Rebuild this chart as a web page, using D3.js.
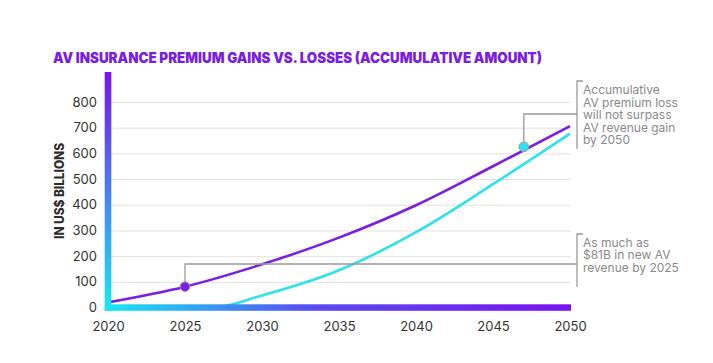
<!DOCTYPE html>
<html>
<head>
<meta charset="utf-8">
<script src="https://cdn.jsdelivr.net/npm/d3@7"></script>
<style>
  body { margin: 0; background: #fff; }
  text { font-family: "Inter", "Liberation Sans", Arial, sans-serif; }
</style>
</head>
<body>
<script>
// data
const years = [2020, 2025, 2030, 2035, 2040, 2045, 2050];
const gainValues = [20, 81, 168, 272, 398, 550, 706];     // AV revenue gain (purple)
const lossYears = [2020, 2026.8, 2030, 2035, 2040, 2045, 2050];
const lossValues = [0, 0, 47, 145, 293, 480, 677];        // AV premium loss (cyan)
const yTicks = [0, 100, 200, 300, 400, 500, 600, 700, 800];
const xTicks = [2020, 2025, 2030, 2035, 2040, 2045, 2050];
const note1 = ["Accumulative", "AV premium loss", "will not surpass", "AV revenue gain", "by 2050"];
const note1Point = [2047, 625];
const note2 = ["As much as", "$81B in new AV", "revenue by 2025"];
const note2Point = [2025, 81];

const w = 713, h = 363;
const purple = "#7a1de6";
const cyan = "#2ee2ee";

const svg = d3.select("body").append("svg")
  .attr("width", w).attr("height", h);

const x = d3.scaleLinear().domain([2020, 2050]).range([108, 570]);
const y = d3.scaleLinear().domain([0, 800]).range([307.5, 102]);

// title
svg.append("text")
  .attr("x", 53).attr("y", 62.5)
  .attr("textLength", 489).attr("lengthAdjust", "spacingAndGlyphs")
  .style("font-size", "14.5px").style("font-weight", 900)
  .style("fill", purple)
  .text("AV INSURANCE PREMIUM GAINS VS. LOSSES (ACCUMULATIVE AMOUNT)");

// y axis title
svg.append("text")
  .attr("transform", "translate(64,191) rotate(-90)")
  .attr("text-anchor", "middle")
  .attr("textLength", 96).attr("lengthAdjust", "spacingAndGlyphs")
  .style("font-size", "12.5px").style("font-weight", 800)
  .style("fill", "#2b2b2b")
  .text("IN US$ BILLIONS");

// gridlines
svg.append("g")
  .attr("transform", "translate(108,0)")
  .call(d3.axisRight(y).tickValues(yTicks.slice(1)).tickSize(463).tickFormat(""))
  .call(g => g.select(".domain").remove())
  .call(g => g.selectAll("line").attr("stroke", "#e2e2e2").attr("stroke-width", 1));

// y tick labels
svg.append("g")
  .attr("transform", "translate(108,0)")
  .call(d3.axisLeft(y).tickValues(yTicks).tickSize(0).tickPadding(11))
  .call(g => g.select(".domain").remove())
  .call(g => g.selectAll("text")
    .style("font-size", "13px").style("fill", "#333")
    .style("font-family", "Inter, 'Liberation Sans', sans-serif"));

// x tick labels
svg.append("g")
  .attr("transform", "translate(0,307.5)")
  .call(d3.axisBottom(x).tickValues(xTicks).tickSize(0).tickPadding(14).tickFormat(d3.format("d")))
  .call(g => g.select(".domain").remove())
  .call(g => g.selectAll("text")
    .style("font-size", "13px").style("fill", "#333")
    .style("font-family", "Inter, 'Liberation Sans', sans-serif"));

// lines
const line = d3.line()
  .x(d => x(d[0])).y(d => y(d[1]))
  .curve(d3.curveMonotoneX);

svg.append("path")
  .datum(lossYears.map((yr, i) => [yr, lossValues[i]]))
  .attr("d", line)
  .attr("fill", "none").attr("stroke", cyan).attr("stroke-width", 2.6);

svg.append("path")
  .datum(years.map((yr, i) => [yr, gainValues[i]]))
  .attr("d", line)
  .attr("fill", "none").attr("stroke", purple).attr("stroke-width", 2.6);

// gradient axis bars
const defs = svg.append("defs");
const gv = defs.append("linearGradient").attr("id", "gv")
  .attr("x1", 0).attr("y1", 0).attr("x2", 0).attr("y2", 1);
gv.append("stop").attr("offset", "0%").attr("stop-color", "#7b12f0");
gv.append("stop").attr("offset", "100%").attr("stop-color", "#16eaf2");
const gh = defs.append("linearGradient").attr("id", "gh")
  .attr("x1", 0).attr("y1", 0).attr("x2", 1).attr("y2", 0);
gh.append("stop").attr("offset", "0%").attr("stop-color", "#16eaf2");
gh.append("stop").attr("offset", "45%").attr("stop-color", "#5a4af0");
gh.append("stop").attr("offset", "100%").attr("stop-color", "#7b12f0");

svg.append("rect")
  .attr("x", x(2020) - 3.3).attr("y", 72)
  .attr("width", 6.6).attr("height", y(0) + 3.3 - 72)
  .attr("fill", "url(#gv)");
svg.append("rect")
  .attr("x", x(2020) - 3.3).attr("y", y(0) - 3.2)
  .attr("width", x(2050) + 1 - (x(2020) - 3.3)).attr("height", 6.5)
  .attr("fill", "url(#gh)");

// annotations
const bracketX = 577;
function note(point, lineY, top, bottom, lines, firstBase, color) {
  const px = x(point[0]), py = y(point[1]);
  svg.append("path")
    .attr("d", `M${px},${py}V${lineY}H${bracketX}`)
    .attr("fill", "none").attr("stroke", "#9a9a9a").attr("stroke-width", 1.3);
  svg.append("path")
    .attr("d", `M${bracketX + 6},${top}H${bracketX}V${bottom}`)
    .attr("fill", "none").attr("stroke", "#9a9a9a").attr("stroke-width", 1.3);
  svg.append("g").selectAll("text")
    .data(lines).enter().append("text")
    .attr("x", bracketX + 6)
    .attr("y", (d, i) => firstBase + i * 12.6)
    .style("font-size", "12px").style("fill", "#8a8a8a")
    .text(d => d);
  svg.append("circle")
    .attr("cx", px).attr("cy", py).attr("r", 4.8)
    .attr("fill", color).attr("stroke", "#9a9a9a").attr("stroke-width", 1);
}
note(note1Point, 114, 81, 149, note1, 94, cyan);
note(note2Point, 264, 234, 287, note2, 246.5, purple);
</script>
</body>
</html>
